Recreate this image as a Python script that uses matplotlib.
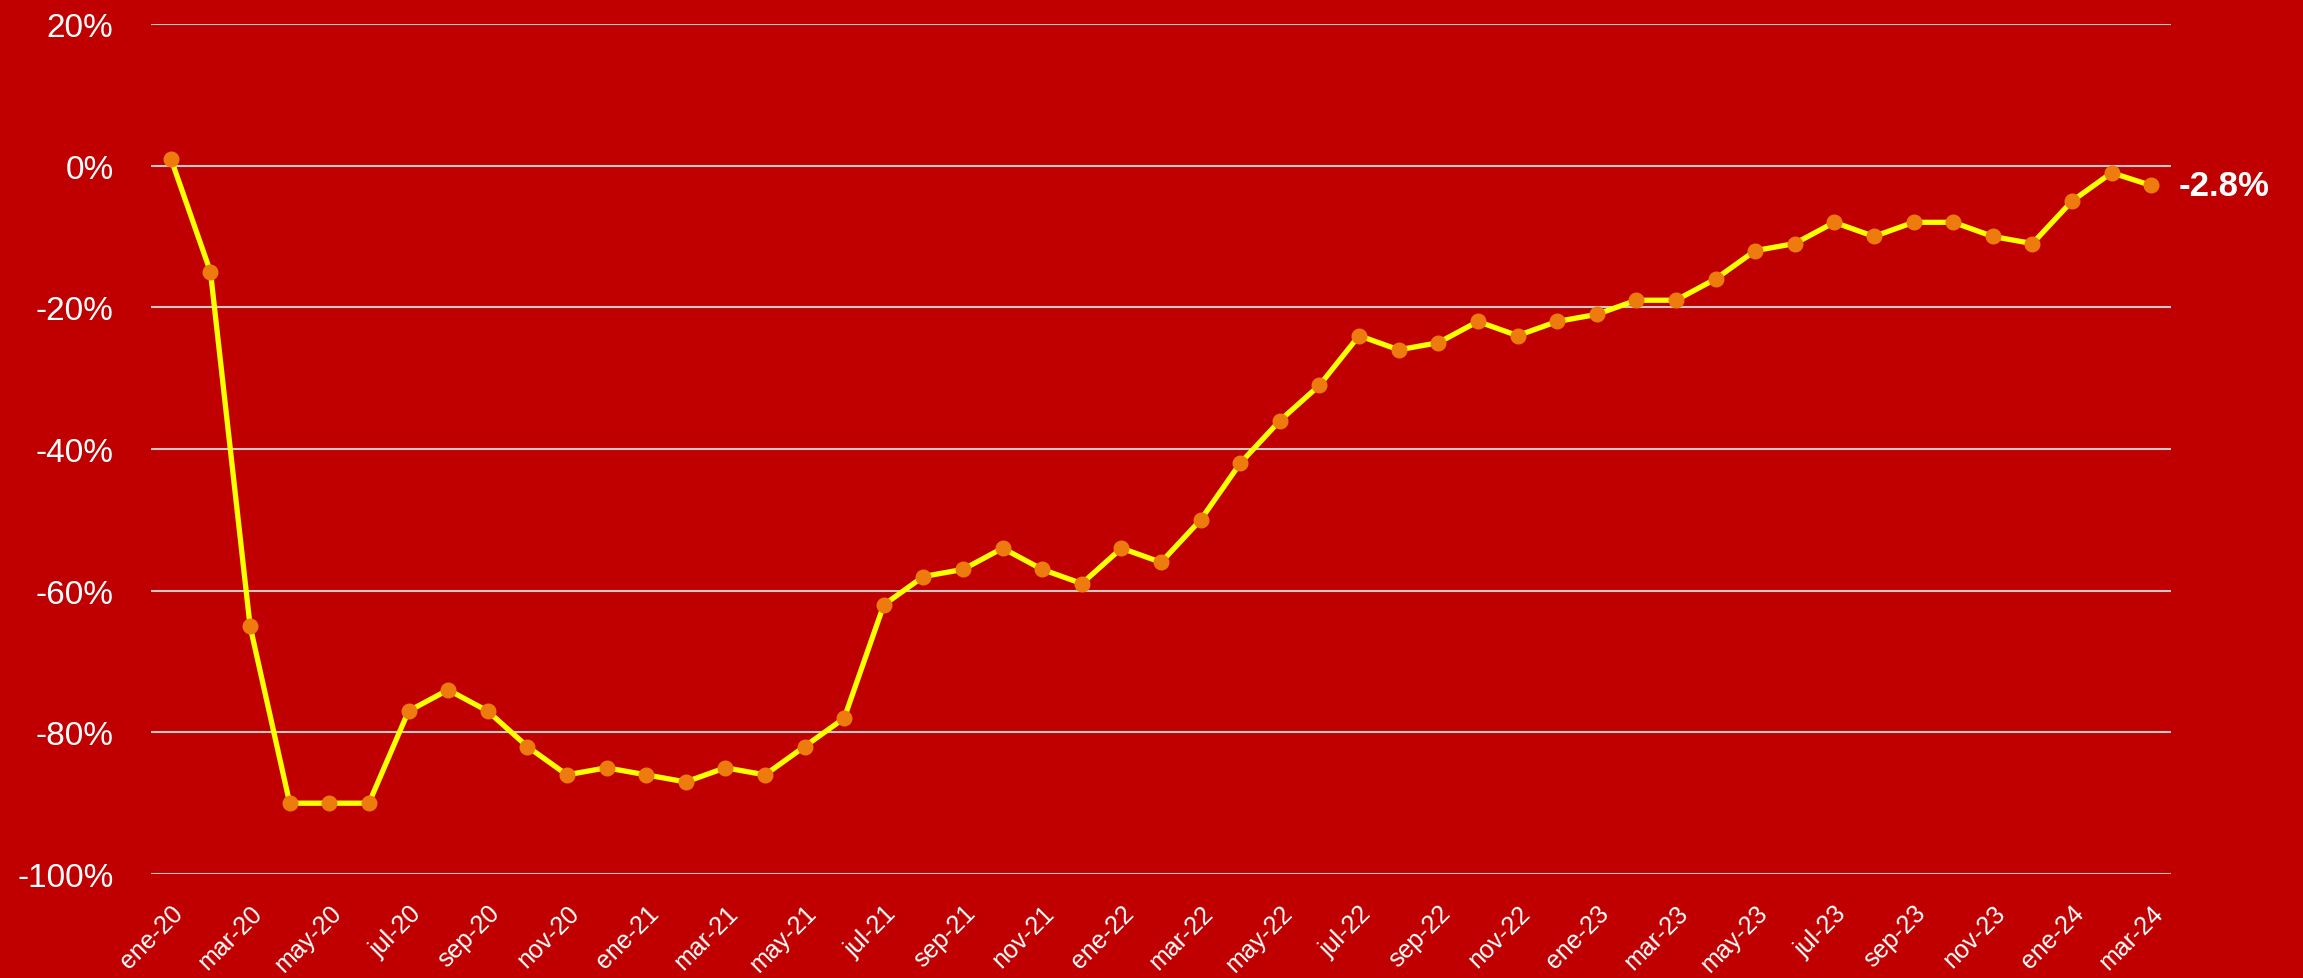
import matplotlib.pyplot as plt
from matplotlib.ticker import FuncFormatter

plt.rcParams['font.family'] = ['Liberation Sans', 'DejaVu Sans']

meses = ['ene', 'feb', 'mar', 'abr', 'may', 'jun',
         'jul', 'ago', 'sep', 'oct', 'nov', 'dic']
etiquetas = [m + '-' + str(a) for a in range(20, 25) for m in meses][:51]

variacion = [1, -15, -65, -90, -90, -90, -77, -74, -77, -82, -86, -85,
             -86, -87, -85, -86, -82, -78, -62, -58, -57, -54, -57, -59,
             -54, -56, -50, -42, -36, -31, -24, -26, -25, -22, -24, -22,
             -21, -19, -19, -16, -12, -11, -8, -10, -8, -8, -10, -11,
             -5, -1, -2.8]

fondo = '#C00000'
fig = plt.figure(figsize=(23.03, 9.79), dpi=100, facecolor=fondo)
ax = fig.add_axes([0.0656, 0.1062, 0.8771, 0.8683])
ax.set_facecolor(fondo)

x = list(range(len(variacion)))
ax.plot(x, variacion, color='#FFFF00', linewidth=3.8, zorder=3)
ax.plot(x, variacion, 'o', color='#EE7B0E', markersize=10.5, zorder=4)

ax.annotate(f'{variacion[-1]:.1f}%', (x[-1], variacion[-1]),
            xytext=(20, 0), textcoords='offset points',
            ha='left', va='center', color='white',
            fontsize=25, fontweight='bold')

ax.set_xlim(-0.5, len(variacion) - 0.5)
ax.set_ylim(-100, 20)
ax.set_yticks(range(-100, 21, 20))
ax.yaxis.set_major_formatter(FuncFormatter(lambda v, p: f'{v:.0f}%'))
ax.set_xticks(x[::2])
ax.set_xticklabels(etiquetas[::2], rotation=45, ha='right',
                   rotation_mode='anchor', fontsize=18, color='white')
ax.tick_params(axis='y', labelsize=24, labelcolor='white', length=0, pad=27)
ax.tick_params(axis='x', length=0, pad=19)

ax.grid(axis='y', color='#C8C8C8', linewidth=1.5)
ax.set_axisbelow(True)
for s in ax.spines.values():
    s.set_visible(False)

fig.savefig('out.png', dpi=100, facecolor=fondo)
